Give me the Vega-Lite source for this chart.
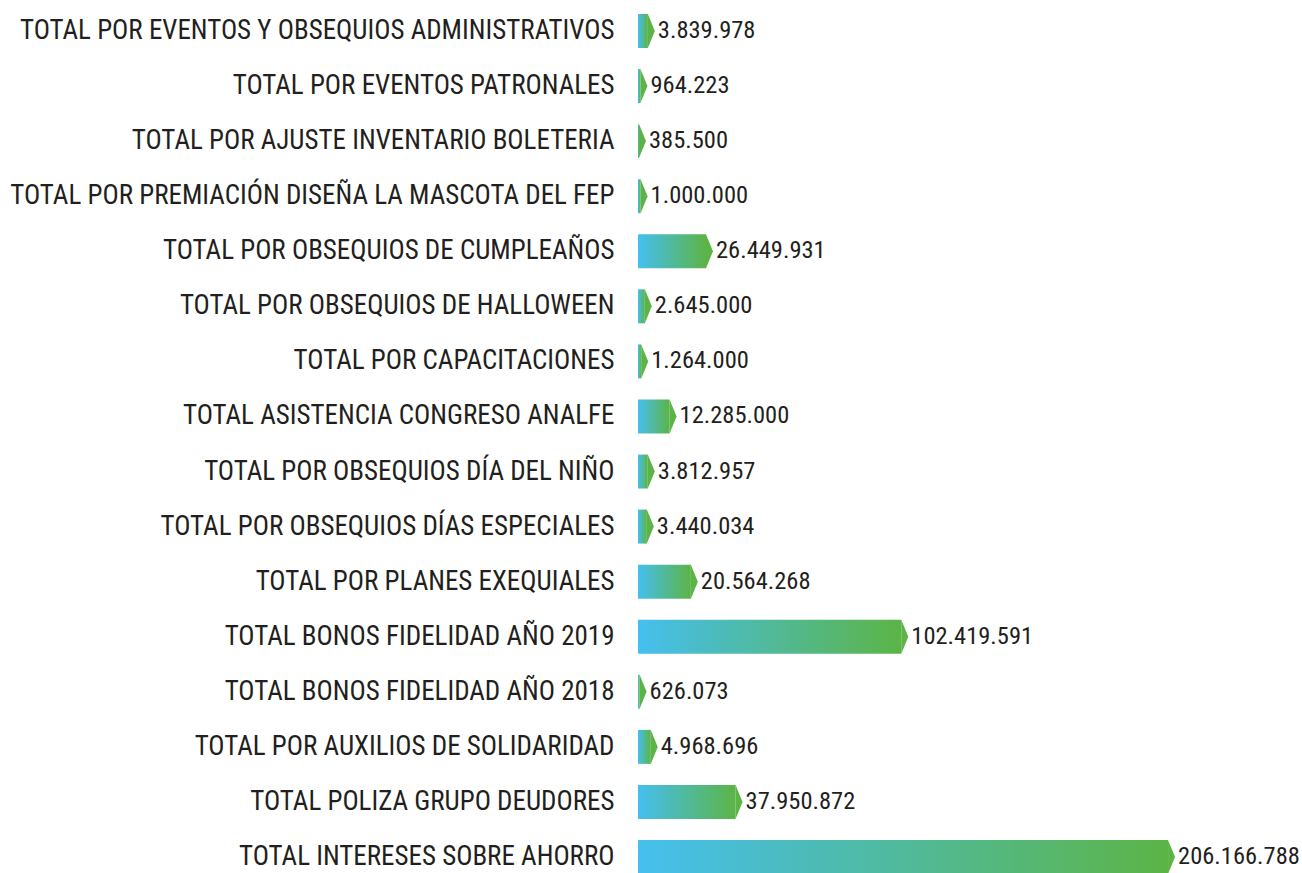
{
  "$schema": "https://vega.github.io/schema/vega-lite/v6.json",
  "autosize": "none",
  "width": 664,
  "height": 873,
  "padding": {"left": 638, "top": 0, "right": 0, "bottom": 0},
  "background": "white",
  "data": {
    "values": [
      {"concepto": "TOTAL POR EVENTOS Y OBSEQUIOS ADMINISTRATIVOS", "valor": 3839978},
      {"concepto": "TOTAL POR EVENTOS PATRONALES", "valor": 964223},
      {"concepto": "TOTAL POR AJUSTE INVENTARIO BOLETERIA", "valor": 385500},
      {"concepto": "TOTAL POR PREMIACIÓN DISEÑA LA MASCOTA DEL FEP", "valor": 1000000},
      {"concepto": "TOTAL POR OBSEQUIOS DE CUMPLEAÑOS", "valor": 26449931},
      {"concepto": "TOTAL POR OBSEQUIOS DE HALLOWEEN", "valor": 2645000},
      {"concepto": "TOTAL POR CAPACITACIONES", "valor": 1264000},
      {"concepto": "TOTAL ASISTENCIA CONGRESO ANALFE", "valor": 12285000},
      {"concepto": "TOTAL POR OBSEQUIOS DÍA DEL NIÑO", "valor": 3812957},
      {"concepto": "TOTAL POR OBSEQUIOS DÍAS ESPECIALES", "valor": 3440034},
      {"concepto": "TOTAL POR PLANES EXEQUIALES", "valor": 20564268},
      {"concepto": "TOTAL BONOS FIDELIDAD AÑO 2019", "valor": 102419591},
      {"concepto": "TOTAL BONOS FIDELIDAD AÑO 2018", "valor": 626073},
      {"concepto": "TOTAL POR AUXILIOS DE SOLIDARIDAD", "valor": 4968696},
      {"concepto": "TOTAL POLIZA GRUPO DEUDORES", "valor": 37950872},
      {"concepto": "TOTAL INTERESES SOBRE AHORRO", "valor": 206166788}
    ]
  },
  "encoding": {
    "y": {
      "field": "concepto",
      "type": "nominal",
      "sort": null,
      "scale": {"range": [14, 874], "paddingInner": 0.383, "paddingOuter": 0},
      "axis": {
        "title": null,
        "domain": false,
        "ticks": false,
        "labelPadding": 24,
        "labelFont": "Roboto Condensed, Noto Sans Condensed, Liberation Sans Narrow, Open Sans Condensed, DejaVu Sans Condensed, sans-serif",
        "labelFontSize": 27,
        "labelColor": "#231F20",
        "labelLimit": 0
      }
    },
    "x": {
      "field": "valor",
      "type": "quantitative",
      "scale": {"domain": [0, 258270000], "nice": false, "zero": true},
      "axis": null
    }
  },
  "layer": [
    {
      "mark": {
        "type": "bar",
        "color": {
          "gradient": "linear",
          "x1": 0, "x2": 1, "y1": 0, "y2": 0,
          "stops": [
            {"offset": 0, "color": "#45BFEF"},
            {"offset": 1, "color": "#5CB446"}
          ]
        }
      }
    },
    {
      "mark": {
        "type": "point",
        "shape": "M0,-1L0.41,0L0,1Z",
        "filled": true,
        "size": 1156,
        "color": "#5CB446",
        "opacity": 1,
        "strokeWidth": 0
      }
    },
    {
      "mark": {
        "type": "text",
        "align": "left",
        "baseline": "middle",
        "dx": 10,
        "font": "Roboto Condensed, Noto Sans Condensed, Liberation Sans Narrow, Open Sans Condensed, DejaVu Sans Condensed, sans-serif",
        "fontSize": 24.5,
        "color": "#231F20"
      },
      "encoding": {
        "text": {"field": "valor", "type": "quantitative", "format": ",.0f"}
      }
    }
  ],
  "config": {
    "view": {"stroke": null},
    "locale": {
      "number": {"decimal": ",", "thousands": ".", "grouping": [3], "currency": ["$", ""]}
    }
  }
}
